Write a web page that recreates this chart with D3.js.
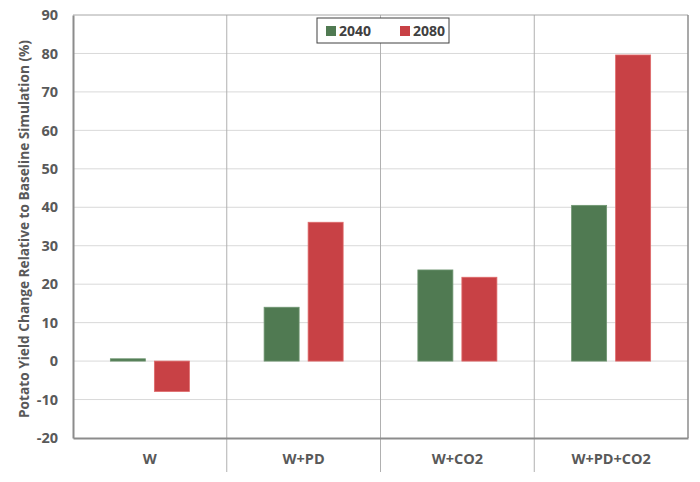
<!DOCTYPE html>
<html><head><meta charset="utf-8">
<script src="https://cdn.jsdelivr.net/npm/d3@7"></script>
<style>body{margin:0;background:#fff;} svg{display:block;font-family:"Open Sans",sans-serif;font-weight:bold;}</style>
</head><body>
<svg id="c" width="700" height="482"></svg>
<script>
const categories = ["W", "W+PD", "W+CO2", "W+PD+CO2"];
const series = ["2040", "2080"];
const values2040 = [0.6, 14.0, 23.7, 40.5];
const values2080 = [-7.9, 36.1, 21.8, 79.6];
const yTicks = [-20, -10, 0, 10, 20, 30, 40, 50, 60, 70, 80, 90];
const colors = ["#507a52", "#c84145"];
const strokes = ["#6f9671", "#df6a6a"];

const svg = d3.select("#c");
const L = 73, R = 688, T = 15, B = 438;
const x0 = d3.scaleBand().domain(categories).range([L, R]).padding(0);
const x1 = d3.scaleBand().domain(series).range([0, x0.bandwidth()]).paddingInner(0.2045).paddingOuter(0.849);
const y = d3.scaleLinear().domain([-20, 90]).range([B, T]);

// gridlines
svg.append("g").selectAll("line").data(yTicks.filter(d => d !== -20 && d !== 90)).join("line")
  .attr("x1", L).attr("x2", R).attr("y1", d => y(d)).attr("y2", d => y(d))
  .attr("stroke", "#d9d9d9").attr("stroke-width", 1);

// category dividers
svg.append("g").selectAll("line").data(categories.slice(1)).join("line")
  .attr("x1", d => x0(d)).attr("x2", d => x0(d)).attr("y1", T).attr("y2", 472)
  .attr("stroke", "#b0b0b0").attr("stroke-width", 1);

// plot border
svg.append("line").attr("x1", L).attr("x2", R).attr("y1", T).attr("y2", T).attr("stroke", "#a6a6a6");
svg.append("line").attr("x1", R).attr("x2", R).attr("y1", T).attr("y2", B).attr("stroke", "#8c8c8c").attr("stroke-width", 1.5);

// bars
const data = [];
categories.forEach((c, i) => {
  data.push({c, s: "2040", v: values2040[i], k: 0});
  data.push({c, s: "2080", v: values2080[i], k: 1});
});
svg.append("g").selectAll("rect").data(data).join("rect")
  .attr("x", d => x0(d.c) + x1(d.s))
  .attr("width", x1.bandwidth())
  .attr("y", d => y(Math.max(0, d.v)))
  .attr("height", d => Math.abs(y(d.v) - y(0)))
  .attr("fill", d => colors[d.k])
  .attr("stroke", d => strokes[d.k]).attr("stroke-width", 0.8);

// y axis
const yAxis = d3.axisLeft(y).tickValues(yTicks).tickFormat(d => String(d)).tickSize(0).tickPadding(15);
const gy = svg.append("g").attr("transform", `translate(${L},0)`).call(yAxis);
gy.select(".domain").attr("stroke", "#8c8c8c").attr("stroke-width", 2);
gy.selectAll("text").attr("fill", "#595959").attr("font-size", 14.5).attr("font-weight", "bold")
  .attr("font-family", "Open Sans, sans-serif");

// x axis
const xAxis = d3.axisBottom(x0).tickSize(0).tickPadding(16);
const gx = svg.append("g").attr("transform", `translate(0,${B})`).call(xAxis);
gx.select(".domain").attr("stroke", "#8c8c8c").attr("stroke-width", 2);
gx.selectAll("text").attr("fill", "#595959").attr("font-size", 14.5).attr("font-weight", "bold")
  .attr("font-family", "Open Sans, sans-serif");

// y title
svg.append("text").attr("transform", "translate(29,229) rotate(-90)")
  .attr("text-anchor", "middle").attr("fill", "#595959").attr("font-size", 14)
  .attr("textLength", 378).attr("lengthAdjust", "spacingAndGlyphs")
  .text("Potato Yield Change Relative to Baseline Simulation  (%)");

// legend
const lg = svg.append("g");
lg.append("rect").attr("x", 317).attr("y", 18).attr("width", 132).attr("height", 25)
  .attr("fill", "#fff").attr("stroke", "#404040").attr("stroke-width", 1);
const legX = [326, 400];
series.forEach((s, i) => {
  lg.append("rect").attr("x", legX[i]).attr("y", 26).attr("width", 10).attr("height", 10).attr("fill", colors[i]);
  lg.append("text").attr("x", legX[i] + 13).attr("y", 36).attr("fill", "#404040").attr("font-size", 14).text(s);
});
</script>
</body></html>
